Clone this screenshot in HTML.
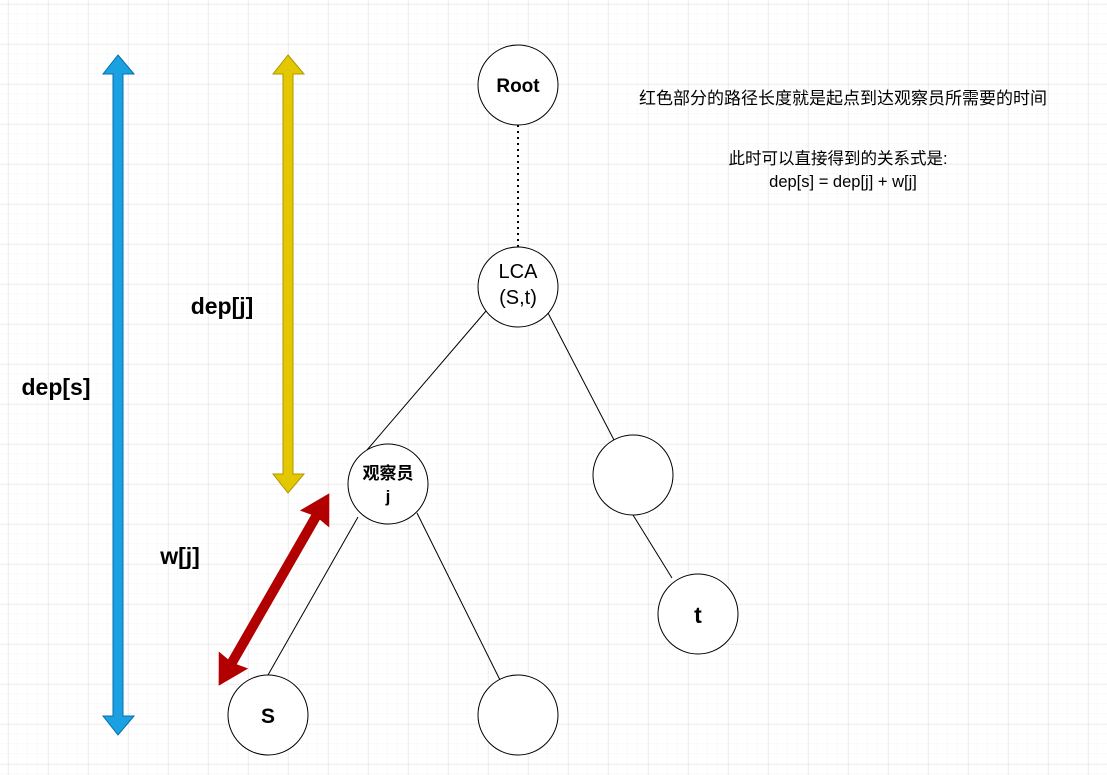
<!DOCTYPE html>
<html><head><meta charset="utf-8"><style>
html,body{margin:0;padding:0;background:#fff}
svg{display:block}
text{font-family:"Liberation Sans","Noto Sans CJK SC",sans-serif;fill:#000}
</style></head><body>
<svg width="1107" height="775" viewBox="0 0 1107 775" xmlns="http://www.w3.org/2000/svg">
<defs>
<pattern id="minor" x="8" y="4" width="10" height="10" patternUnits="userSpaceOnUse">
<path d="M10 0V10M0 10H10" stroke="#f4f4f4" stroke-width="1" fill="none"/>
</pattern>
<pattern id="major" x="8.5" y="4.5" width="40" height="40" patternUnits="userSpaceOnUse">
<path d="M0 0V40M0 0H40" stroke="#e0e0e0" stroke-width="1" fill="none"/>
</pattern>
</defs>
<rect width="1107" height="775" fill="url(#minor)"/>
<rect width="1107" height="775" fill="url(#major)"/>

<!-- blue arrow -->
<polygon points="118,55 134,74 123,74 123,716 134,716 118,735 103,716 113,716 113,74 103,74" fill="#1ba1e2" stroke="#006eaf" stroke-width="1"/>
<!-- yellow arrow -->
<polygon points="288,55 304,74 293,74 293,474 304,474 288,493 273,474 283,474 283,74 273,74" fill="#e3c800" stroke="#b09500" stroke-width="1"/>
<!-- red arrow -->
<g transform="translate(274,589.5) rotate(-60.1)">
<polygon points="-110,0 -82,-16 -84,-4.5 84,-4.5 82,-16 110,0 82,16 84,4.5 -84,4.5 -82,16" fill="#b20000" stroke="#b20000" stroke-width="1"/>
</g>

<!-- edges -->
<line x1="518" y1="125" x2="518" y2="247" stroke="#000" stroke-width="2" stroke-dasharray="2,4"/>
<g stroke="#000" stroke-width="1">
<line x1="486" y1="311" x2="367" y2="450"/>
<line x1="548" y1="313" x2="614" y2="440"/>
<line x1="633" y1="515" x2="672" y2="578"/>
<line x1="358" y1="517" x2="268" y2="675"/>
<line x1="417" y1="513" x2="500" y2="680"/>
</g>

<!-- nodes -->
<g fill="#fff" stroke="#000" stroke-width="1">
<circle cx="518" cy="85" r="40"/>
<circle cx="518" cy="287" r="40"/>
<circle cx="388" cy="484" r="40"/>
<circle cx="633" cy="475" r="40"/>
<circle cx="698" cy="614" r="40"/>
<circle cx="268" cy="715" r="40"/>
<circle cx="518" cy="715" r="40"/>
</g>
<text x="518" y="92" font-size="19" font-weight="bold" text-anchor="middle">Root</text>
<text x="518" y="278" font-size="20" text-anchor="middle">LCA</text>
<text x="518" y="304" font-size="20" text-anchor="middle">(S,t)</text>
<text x="388" y="479" font-size="17" font-weight="bold" text-anchor="middle">观察员</text>
<text x="388" y="502" font-size="17" font-weight="bold" text-anchor="middle">j</text>
<text x="698" y="623" font-size="23" font-weight="bold" text-anchor="middle">t</text>
<text x="268" y="723" font-size="21" font-weight="bold" text-anchor="middle">S</text>

<!-- labels -->
<text x="56" y="395" font-size="23" font-weight="bold" text-anchor="middle">dep[s]</text>
<text x="222" y="314" font-size="23" font-weight="bold" text-anchor="middle">dep[j]</text>
<text x="180" y="564" font-size="23" font-weight="bold" text-anchor="middle">w[j]</text>

<text x="843" y="104" font-size="17" text-anchor="middle">红色部分的路径长度就是起点到达观察员所需要的时间</text>
<text x="838" y="164" font-size="16.5" text-anchor="middle">此时可以直接得到的关系式是:</text>
<text x="843" y="187" font-size="16.5" text-anchor="middle">dep[s] = dep[j] + w[j]</text>
</svg>
</body></html>
